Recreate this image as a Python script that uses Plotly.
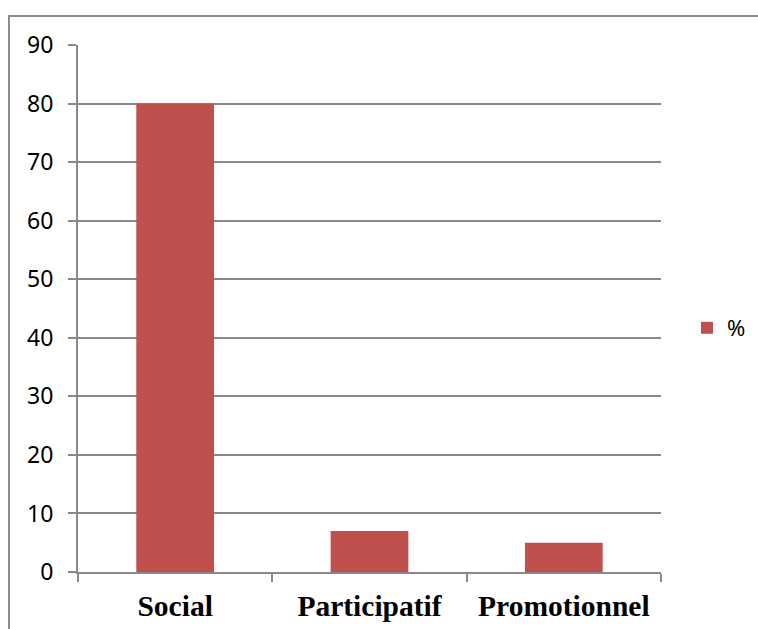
import plotly.graph_objects as go

categories = ["Social", "Participatif", "Promotionnel"]
values = [80, 7, 5]
series_name = "%"
y_ticks = [0, 10, 20, 30, 40, 50, 60, 70, 80, 90]

W, H = 758, 629
L, R, T, B = 78, 97, 45, 57
pw = W - L - R
ph = H - T - B

fig = go.Figure()
fig.add_trace(go.Bar(
    x=categories, y=values, name=series_name,
    marker=dict(color="#C0504D", line=dict(width=0)),
    width=0.4,
    showlegend=True,
))

grid = "#898989"
fig.update_layout(
    width=W, height=H,
    margin=dict(l=L, r=R, t=T, b=B, pad=0, autoexpand=False),
    paper_bgcolor="white", plot_bgcolor="white",
    showlegend=True,
    legend=dict(x=(687 - L) / pw, y=(572 - 328) / ph, xanchor="left", yanchor="middle",
                font=dict(family="Noto Sans, Liberation Sans", size=22, color="black"),
                itemwidth=30, bgcolor="rgba(0,0,0,0)"),
    bargap=0.6,
)
fig.update_xaxes(
    showline=True, linecolor=grid, linewidth=2,
    ticks="outside", tickson="boundaries", ticklen=8, tickcolor=grid, tickwidth=2,
    showgrid=False,
    tickfont=dict(family="Liberation Serif", size=29.5, color="black", weight="bold"),
    ticklabelstandoff=7,
    range=[-0.5, 2.5],
)
fig.update_yaxes(
    range=[0, 90], tickvals=y_ticks,
    showline=True, linecolor=grid, linewidth=2,
    ticks="outside", ticklen=8, tickcolor=grid, tickwidth=2,
    showgrid=True, gridcolor=grid, gridwidth=2,
    zeroline=False,
    tickfont=dict(family="Noto Sans, Liberation Sans", size=23, color="black"),
    ticklabelstandoff=10,
)
# outer chart border
fig.add_shape(type="rect", xref="paper", yref="paper",
              x0=(9 - L) / pw, x1=(W + 10 - L) / pw,
              y0=-(H + 10 - 572) / ph, y1=(572 - 16) / ph,
              line=dict(color="#8C8C8C", width=2), fillcolor="rgba(0,0,0,0)", layer="below")

fig.write_html("out.html")
